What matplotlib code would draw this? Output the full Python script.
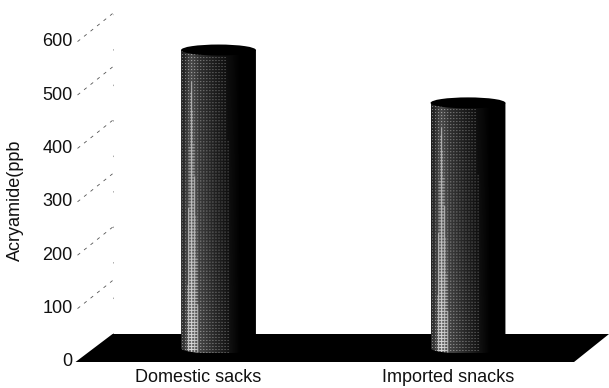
import numpy as np
import matplotlib
matplotlib.use('Agg')
import matplotlib.pyplot as plt
from matplotlib.patches import Polygon, Ellipse, PathPatch
from matplotlib.path import Path

categories = ['Domestic sacks', 'Imported snacks']
acrylamide = [558, 459]
y_ticks = [0, 100, 200, 300, 400, 500, 600]

plt.rcParams['font.family'] = ['Liberation Sans', 'DejaVu Sans']

W, H = 609, 388
PX_PER_CAT = 249.5       # pixels between the two cylinders
PX_PER_PPB = 0.534       # pixels per ppb on the vertical scale
BAR_W = 0.30             # cylinder width, category units
RY = 5.5 / PX_PER_PPB    # half height of the end ellipses, ppb
DX = 37 / PX_PER_CAT     # floor depth, sideways
DY = 28 / PX_PER_PPB     # floor depth, upwards

fig = plt.figure(figsize=(W / 100, H / 100), dpi=100)
ax = fig.add_axes([0, 0, 1, 1])
ax.set_xlim(-218.5 / PX_PER_CAT, (W - 218.5) / PX_PER_CAT)
ax.set_ylim(-(H - 362) / PX_PER_PPB, 362 / PX_PER_PPB)
ax.axis('off')

# floor
fx0, fx1 = -0.573, 1.425
ax.add_patch(Polygon([(fx0, 0), (fx1, 0), (fx1 + 35 / PX_PER_CAT, DY), (fx0 + DX, DY)],
                     closed=True, fc='black', ec='none', zorder=2))

# dashed wall lines going back from the value axis
for t in y_ticks[1:]:
    ax.plot([fx0 + 2 / PX_PER_CAT, fx0 + DX], [t, t + DY], color='#555555', lw=0.6,
            ls=(0, (4, 6)), zorder=1)
ax.plot([fx0 + DX, fx0 + DX], [DY, 600 + DY], color='#aaaaaa', lw=0.7,
        ls=(0, (1.5, 35)), zorder=1)

# value labels and axis title
for t in y_ticks:
    ax.text(fx0 - 3 / PX_PER_CAT, t, str(t), ha='right', va='center', fontsize=13, color='#111111')
ax.text(-203 / PX_PER_CAT, 303, 'Acryamide(ppb', rotation=90, ha='center', va='center',
        fontsize=13, color='#111111')


def halftone(nx, ny):
    # ordered dither: lit band near the left edge, falling to black on the right
    u = np.linspace(0, 1, nx)
    shade = np.interp(u, [0, 0.05, 0.13, 0.25, 0.45, 0.68, 0.8, 1.0],
                      [0.3, 0.45, 0.8, 0.5, 0.3, 0.1, 0.0, 0.0])
    v = np.linspace(0, 1, ny)[:, None]  # 0 at top
    b = shade[None, :] * (0.72 + 0.38 * v)
    cell = np.array([[0.9, 0.6, 0.9],
                     [0.6, 0.12, 0.6],
                     [0.9, 0.6, 0.9]])
    thr = np.tile(cell, (ny // 3 + 1, nx // 3 + 1))[:ny, :nx]
    return np.where(b > thr, 0.35 + 0.6 * b, 0.5 * b)


# cylinders
for i, (name, val) in enumerate(zip(categories, acrylamide)):
    x0, x1 = i - BAR_W / 2, i + BAR_W / 2
    base = DY / 2
    top = base + val
    verts = [(x0, top), (x1, top), (x1, base)]
    codes = [Path.MOVETO, Path.LINETO, Path.LINETO]
    # lower rim
    verts += [(x1, base - RY * 1.33), (x0, base - RY * 1.33), (x0, base)]
    codes += [Path.CURVE4, Path.CURVE4, Path.CURVE4]
    verts += [(x0, top)]
    codes += [Path.CLOSEPOLY]
    body = Path(verts, codes)

    nx = int(BAR_W * PX_PER_CAT)
    ny = int((val + 2 * RY) * PX_PER_PPB)
    im = ax.imshow(halftone(nx, ny), cmap='gray', vmin=0, vmax=1, aspect='auto',
                   extent=(x0, x1, base - RY, top + RY), interpolation='bilinear', zorder=3)
    im.set_clip_path(PathPatch(body, transform=ax.transData))
    ax.add_patch(Ellipse((i, top), BAR_W, 2 * RY, fc='black', ec='none', zorder=4))

    ax.text(i - 20 / PX_PER_CAT, -(378 - 362) / PX_PER_PPB, name, ha='center', va='center',
            fontsize=13, color='#111111')

ax.set_xlim(-218.5 / PX_PER_CAT, (W - 218.5) / PX_PER_CAT)
ax.set_ylim(-(H - 362) / PX_PER_PPB, 362 / PX_PER_PPB)
fig.savefig('out.png', dpi=100, facecolor='white')
